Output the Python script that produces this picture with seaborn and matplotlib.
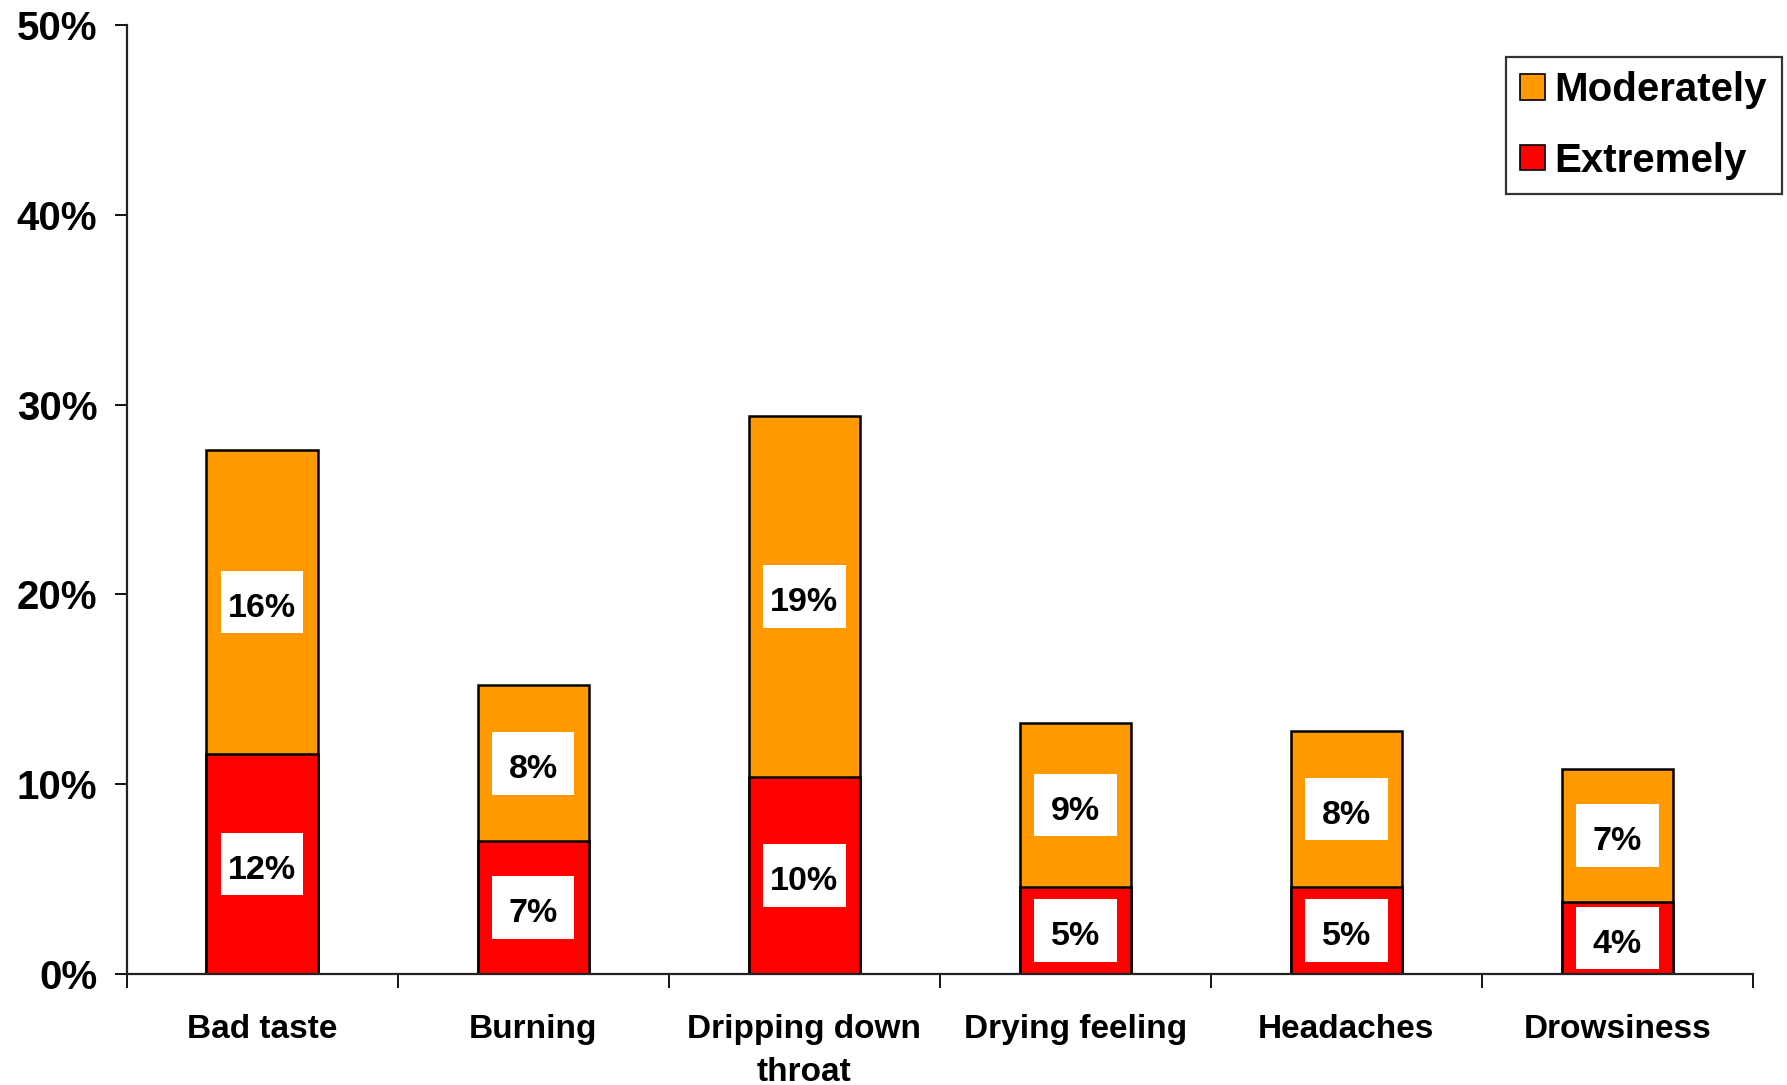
import numpy as np
import pandas as pd
import matplotlib
matplotlib.use("Agg")
import matplotlib.pyplot as plt
import seaborn as sns
from matplotlib.patches import Patch, Rectangle

# ---- data (percent of respondents) ----
categories = ["Bad taste", "Burning", "Dripping down\nthroat", "Drying feeling", "Headaches", "Drowsiness"]
extremely = [11.6, 7.0, 10.4, 4.6, 4.6, 3.8]
moderately = [16.0, 8.2, 19.0, 8.6, 8.2, 7.0]
yticks = [0, 10, 20, 30, 40, 50]

ORANGE = "#FF9900"
RED = "#FF0000"

sns.set_style("white")
plt.rcParams['font.family'] = ['Liberation Sans', 'DejaVu Sans']
plt.rcParams['font.weight'] = 'bold'
plt.rcParams['text.color'] = 'black'
plt.rcParams['xtick.color'] = 'black'
plt.rcParams['ytick.color'] = 'black'

df = pd.DataFrame({"cat": categories, "Extremely": extremely, "Moderately": moderately})
df["total"] = df["Extremely"] + df["Moderately"]

fig = plt.figure(figsize=(17.87, 10.85), dpi=100)
ax = fig.add_axes([0.0708, 0.1023, 0.9102, 0.8747])

# orange = total height, red drawn over the bottom part -> stacked look
sns.barplot(data=df, x="cat", y="total", color=ORANGE, width=0.41, saturation=1,
            edgecolor="black", linewidth=1.8, ax=ax)
sns.barplot(data=df, x="cat", y="Extremely", color=RED, width=0.41, saturation=1,
            edgecolor="black", linewidth=1.8, ax=ax)

# value labels on white boxes, centred in each segment
BOX_W, BOX_H = 0.305, 3.3


def label(x, y, val):
    ax.add_patch(Rectangle((x - BOX_W / 2, y - BOX_H / 2), BOX_W, BOX_H,
                           facecolor="white", edgecolor="none", zorder=5))
    ax.text(x, y - 0.15, f"{round(val):.0f}%", ha="center", va="center_baseline",
            fontsize=24.5, fontweight="bold", zorder=6)


for i, row in df.iterrows():
    label(i, row["Extremely"] / 2, row["Extremely"])
    label(i, row["Extremely"] + row["Moderately"] / 2, row["Moderately"])

ax.set_xlim(-0.5, 5.5)
ax.set_ylim(0, 50)
ax.set_yticks(yticks)
ax.set_yticklabels([f"{t}%" for t in yticks], fontsize=29, fontweight="bold")
ax.tick_params(axis="y", length=9, width=1.3, direction="out", left=True, pad=12)
ax.set_xticks(range(len(categories)))
ax.set_xticklabels(categories, fontsize=24, fontweight="bold", linespacing=1.5)
ax.tick_params(axis="x", which="major", length=0, pad=29)
ax.set_xticks(np.arange(-0.5, 6, 1), minor=True)
ax.tick_params(axis="x", which="minor", length=10, width=1.3, direction="out", bottom=True)
ax.set_xlabel("")
ax.set_ylabel("")

sns.despine(ax=ax)
for s in ["left", "bottom"]:
    ax.spines[s].set_linewidth(1.6)
    ax.spines[s].set_color("#222222")

handles = [Patch(facecolor=ORANGE, edgecolor="black", linewidth=1.2, label="Moderately"),
           Patch(facecolor=RED, edgecolor="black", linewidth=1.2, label="Extremely")]
leg = fig.legend(handles=handles, loc="upper right", bbox_to_anchor=(0.997, 0.9475),
                 prop={"size": 29, "weight": "bold"}, frameon=True, fancybox=False,
                 handlelength=0.6, handleheight=0.6, handletextpad=0.25,
                 labelspacing=0.8, borderpad=0.36, borderaxespad=0)
leg.get_frame().set_edgecolor("black")
leg.get_frame().set_linewidth(1.6)

fig.savefig("out.png", dpi=100)
